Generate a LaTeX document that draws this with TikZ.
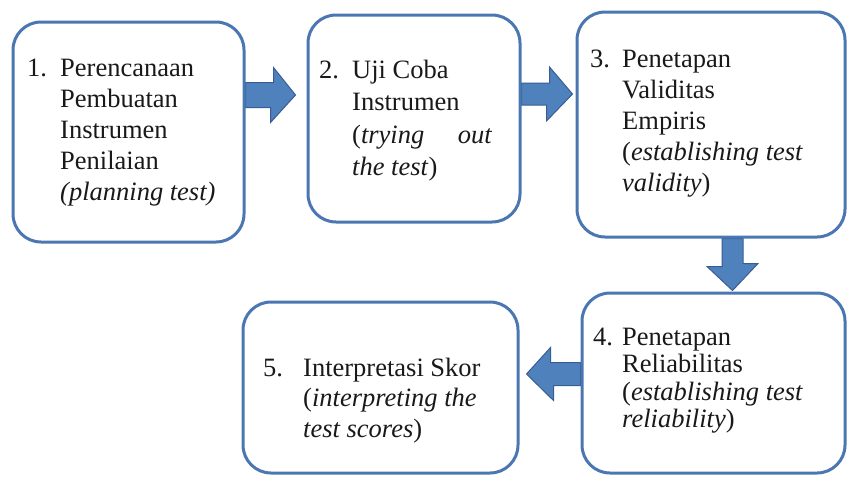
\documentclass[tikz,border=0pt]{standalone}
\usepackage{fontspec}
\setmainfont{LiberationSerif-Regular.ttf}[
  ItalicFont=LiberationSerif-Italic.ttf,
  BoldFont=LiberationSerif-Bold.ttf]
\usetikzlibrary{calc}
\pgfdeclarelayer{background}
\pgfsetlayers{background,main}

\definecolor{boxblue}{RGB}{74,118,178}
\definecolor{arrowfill}{RGB}{79,129,189}
\definecolor{arrowedge}{RGB}{56,93,148}
\definecolor{ink}{RGB}{25,25,25}

% numbered step text: #1 number column width, #2 leading, #3 number, #4 rows
\newcommand{\steptext}[4]{%
  {\fontsize{26.5}{#2}\selectfont
   \begin{tabular}[t]{@{}p{#1}@{}l@{}}#3 & #4\end{tabular}}}

\tikzset{
  stepbox/.style={draw=boxblue, line width=3pt, rounded corners=28pt,
    rectangle, inner sep=0pt},
  steplabel/.style={anchor=base west, inner sep=0pt, text=ink},
  blockarrow/.style={fill=arrowfill, draw=arrowedge, line width=1pt,
    line join=miter},
}

\begin{document}
\begin{tikzpicture}[x=1pt, y=-1pt]
\useasboundingbox (0,0) rectangle (848,477);

% boxes
\node[stepbox, minimum width=231pt, minimum height=220pt] (b1) at (128.5,132) {};
\node[stepbox, minimum width=212pt, minimum height=207pt] (b2) at (414,118.5) {};
\node[stepbox, minimum width=268pt, minimum height=225pt] (b3) at (711,124.5) {};
\node[stepbox, minimum width=263pt, minimum height=180pt] (b4) at (713.5,383) {};
\node[stepbox, minimum width=275pt, minimum height=171pt] (b5) at (380.5,387.5) {};

% texts
\node[steplabel] (t1) at (27,76) {\steptext{33pt}{31pt}{1.}{%
  Perencanaan\\ & Pembuatan\\ & Instrumen\\ & Penilaian\\ & \textit{(planning test)}}};
\node[steplabel] (t2) at (319,78) {\steptext{33pt}{32.5pt}{2.}{%
  Uji Coba\\ & Instrumen\\ & \hbox to 140pt{(\textit{trying}\hfill\textit{out}}\\ & \textit{the test})}};
\node[steplabel] (t3) at (590,67) {\steptext{32pt}{31pt}{3.}{%
  Penetapan\\ & Validitas\\ & Empiris\\ & (\textit{establishing test}\\ & \textit{validity})}};
\node[steplabel] (t4) at (593,345) {\steptext{29pt}{27.5pt}{4.}{%
  Penetapan\\ & Reliabilitas\\ & (\textit{establishing test}\\ & \textit{reliability})}};
\node[steplabel] (t5) at (263,376) {\steptext{40pt}{30.5pt}{5.}{%
  Interpretasi Skor\\ & (\textit{interpreting the}\\ & \textit{test scores})}};

% block arrows between the steps
\begin{pgfonlayer}{background}
\draw[blockarrow] ($(b1.east |- 0,95)+(0,-12.5)$) -- ++(28,0) -- ++(0,-15)
  -- ($(b2.west |- 0,95)+(-11,0)$) -- ++(-25,27.5) -- ++(0,-15)
  -- ($(b1.east |- 0,95)+(0,12.5)$) -- cycle;
\draw[blockarrow] ($(b2.east |- 0,94)+(0,-11)$) -- ++(28,0) -- ++(0,-16)
  -- ($(b3.west |- 0,94)+(-3,0)$) -- ++(-26,27) -- ++(0,-16)
  -- ($(b2.east |- 0,94)+(0,11)$) -- cycle;
\draw[blockarrow] ($(b3.south -| 732.5,0)+(-10.5,0)$) -- ++(0,28) -- ++(-15,0)
  -- ($(b4.north -| 732.5,0)+(0,-1)$) -- ++(25.5,-27) -- ++(-15,0)
  -- ($(b3.south -| 732.5,0)+(10.5,0)$) -- cycle;
\draw[blockarrow] ($(b4.west |- 0,374)+(0,-11.5)$) -- ++(-30,0) -- ++(0,-15)
  -- ($(b5.east |- 0,374)+(7,0)$) -- ++(27,26.5) -- ++(0,-15)
  -- ($(b4.west |- 0,374)+(0,11.5)$) -- cycle;
\end{pgfonlayer}
\end{tikzpicture}
\end{document}
